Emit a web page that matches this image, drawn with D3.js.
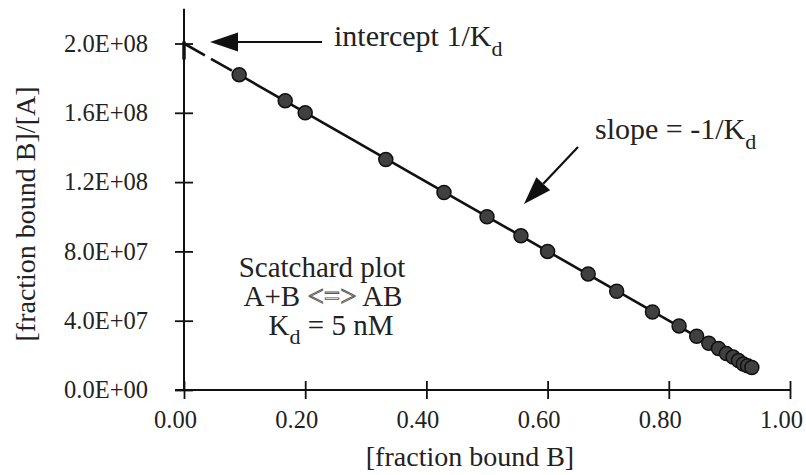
<!DOCTYPE html>
<html>
<head>
<meta charset="utf-8">
<script src="https://cdn.jsdelivr.net/npm/d3@7"></script>
<style>
  html, body { margin: 0; padding: 0; background: #fff; }
  svg { display: block; }
  svg text { font-family: "Liberation Serif", "Times New Roman", "DejaVu Serif", serif; }
</style>
</head>
<body>
<svg id="chart" width="806" height="475"></svg>
<script>
// Scatchard plot: fraction bound B vs bound/free ratio
const fractionBound = [0.091, 0.167, 0.200, 0.333, 0.429, 0.500, 0.556, 0.600, 0.667, 0.714,
                       0.773, 0.817, 0.846, 0.866, 0.882, 0.895, 0.906, 0.915, 0.923, 0.930, 0.937];
const boundOverFree = [1.82e8, 1.67e8, 1.60e8, 1.33e8, 1.14e8, 1.00e8, 0.89e8, 0.80e8, 0.67e8, 0.57e8,
                       0.45e8, 0.37e8, 0.31e8, 0.27e8, 0.24e8, 0.21e8, 0.19e8, 0.17e8, 0.15e8, 0.14e8, 0.13e8];

// straight-line fit: extrapolated part (to the intercept) and fitted part
const fitDashedX = [0.000, 0.091];
const fitDashedY = [2.00e8, 1.82e8];
const fitSolidX  = [0.091, 0.937];
const fitSolidY  = [1.82e8, 0.126e8];

const xTickValues = [0, 0.2, 0.4, 0.6, 0.8, 1.0];
const xTickLabels = ["0.00", "0.20", "0.40", "0.60", "0.80", "1.00"];
const yTickValues = [0, 4e7, 8e7, 1.2e8, 1.6e8, 2.0e8];
const yTickLabels = ["0.0E+00", "4.0E+07", "8.0E+07", "1.2E+08", "1.6E+08", "2.0E+08"];
const yAxisTop = 2.2e8;

const svg = d3.select("#chart");
const x = d3.scaleLinear().domain([0, 1]).range([184, 790]);
const y = d3.scaleLinear().domain([0, 2e8]).range([390, 43.5]);

const ink = "#111";
const txt = "#222";
const serif = '"Liberation Serif", "Times New Roman", serif';

// axes with ticks that cross the axis line
const xAxis = d3.axisBottom(x).tickValues(xTickValues)
  .tickFormat((d, i) => xTickLabels[i]).tickSizeOuter(0);
const gx = svg.append("g").attr("transform", `translate(0,${y(0)})`).call(xAxis)
  .attr("font-family", serif);
gx.select(".domain").remove();
gx.append("line").attr("x1", x(0) - 9).attr("x2", x(1) + 1)
  .attr("stroke", ink).attr("stroke-width", 2);
gx.selectAll(".tick line").attr("y1", -9).attr("y2", 9).attr("stroke", ink).attr("stroke-width", 1.8);
gx.selectAll(".tick text").attr("x", -9).attr("y", 38).attr("dy", null)
  .attr("font-size", 24.5).attr("fill", txt);

const yAxis = d3.axisLeft(y).tickValues(yTickValues)
  .tickFormat((d, i) => yTickLabels[i]).tickSizeOuter(0);
const gy = svg.append("g").attr("transform", `translate(${x(0)},0)`).call(yAxis)
  .attr("font-family", serif);
gy.select(".domain").remove();
gy.append("line").attr("y1", y(yAxisTop)).attr("y2", y(0) + 1)
  .attr("stroke", ink).attr("stroke-width", 2);
gy.selectAll(".tick line").attr("x1", -9).attr("x2", 9).attr("stroke", ink).attr("stroke-width", 1.8);
gy.selectAll(".tick text").attr("x", -36).attr("dy", "0.32em")
  .attr("font-size", 24.5).attr("fill", txt);

// thick mark where the fit meets the y axis
svg.append("line")
  .attr("x1", x(0)).attr("x2", x(0))
  .attr("y1", y(fitDashedY[0]) - 2).attr("y2", y(fitDashedY[0]) + 16)
  .attr("stroke", ink).attr("stroke-width", 3.5);

// fit line
const line = d3.line().x(d => x(d[0])).y(d => y(d[1]));
svg.append("path")
  .attr("d", line(d3.zip(fitDashedX, fitDashedY)))
  .attr("fill", "none").attr("stroke", ink).attr("stroke-width", 2.6)
  .attr("stroke-dasharray", "24,7");
svg.append("path")
  .attr("d", line(d3.zip(fitSolidX, fitSolidY)))
  .attr("fill", "none").attr("stroke", ink).attr("stroke-width", 2.6);

// data points
svg.append("g").selectAll("circle")
  .data(d3.zip(fractionBound, boundOverFree))
  .join("circle")
  .attr("cx", d => x(d[0])).attr("cy", d => y(d[1])).attr("r", 7)
  .attr("fill", "#404040").attr("stroke", "#111").attr("stroke-width", 1.5);

// axis titles
svg.append("text").attr("x", 470).attr("y", 466).attr("text-anchor", "middle")
  .attr("font-size", 28).attr("fill", txt).text("[fraction bound B]");
svg.append("text").attr("transform", "translate(35,214) rotate(-90)").attr("text-anchor", "middle")
  .attr("font-size", 28).attr("fill", txt).text("[fraction bound B]/[A]");

// arrow helper: filled head at the tip, shaft back to the tail
function arrow(x0, y0, x1, y1, headLen, headHalf) {
  const ang = Math.atan2(y1 - y0, x1 - x0);
  const bx = x1 - headLen * Math.cos(ang), by = y1 - headLen * Math.sin(ang);
  svg.append("line").attr("x1", x0).attr("y1", y0).attr("x2", bx).attr("y2", by)
    .attr("stroke", ink).attr("stroke-width", 2.2);
  const px = -Math.sin(ang) * headHalf, py = Math.cos(ang) * headHalf;
  svg.append("path")
    .attr("d", `M${x1},${y1}L${bx + px},${by + py}L${bx - px},${by - py}Z`)
    .attr("fill", ink);
}

// intercept annotation
arrow(322, 42, 210, 42, 28, 9.5);
const t1 = svg.append("text").attr("x", 334).attr("y", 46).attr("font-size", 30).attr("fill", txt);
t1.append("tspan").text("intercept 1/K");
t1.append("tspan").attr("dy", 10).attr("font-size", 22).text("d");

// slope annotation
arrow(578, 147, 524, 204, 28, 9.5);
const t2 = svg.append("text").attr("x", 595).attr("y", 139).attr("font-size", 30).attr("fill", txt);
t2.append("tspan").text("slope = -1/K");
t2.append("tspan").attr("dy", 10).attr("font-size", 22).text("d");

// description block
const block = svg.append("g").attr("font-size", 29).attr("fill", txt).attr("text-anchor", "middle");
block.append("text").attr("x", 322).attr("y", 277).text("Scatchard plot");
const l2 = block.append("text").attr("x", 323).attr("y", 306);
l2.append("tspan").text("A+B ");
l2.append("tspan").attr("fill", "#fff").attr("stroke", "#555").attr("stroke-width", 0.9).text("<=>");
l2.append("tspan").text(" AB");
const l3 = block.append("text").attr("x", 331).attr("y", 335);
l3.append("tspan").text("K");
l3.append("tspan").attr("dy", 9).attr("font-size", 22).text("d");
l3.append("tspan").attr("dy", -9).text(" = 5 nM");
</script>
</body>
</html>
